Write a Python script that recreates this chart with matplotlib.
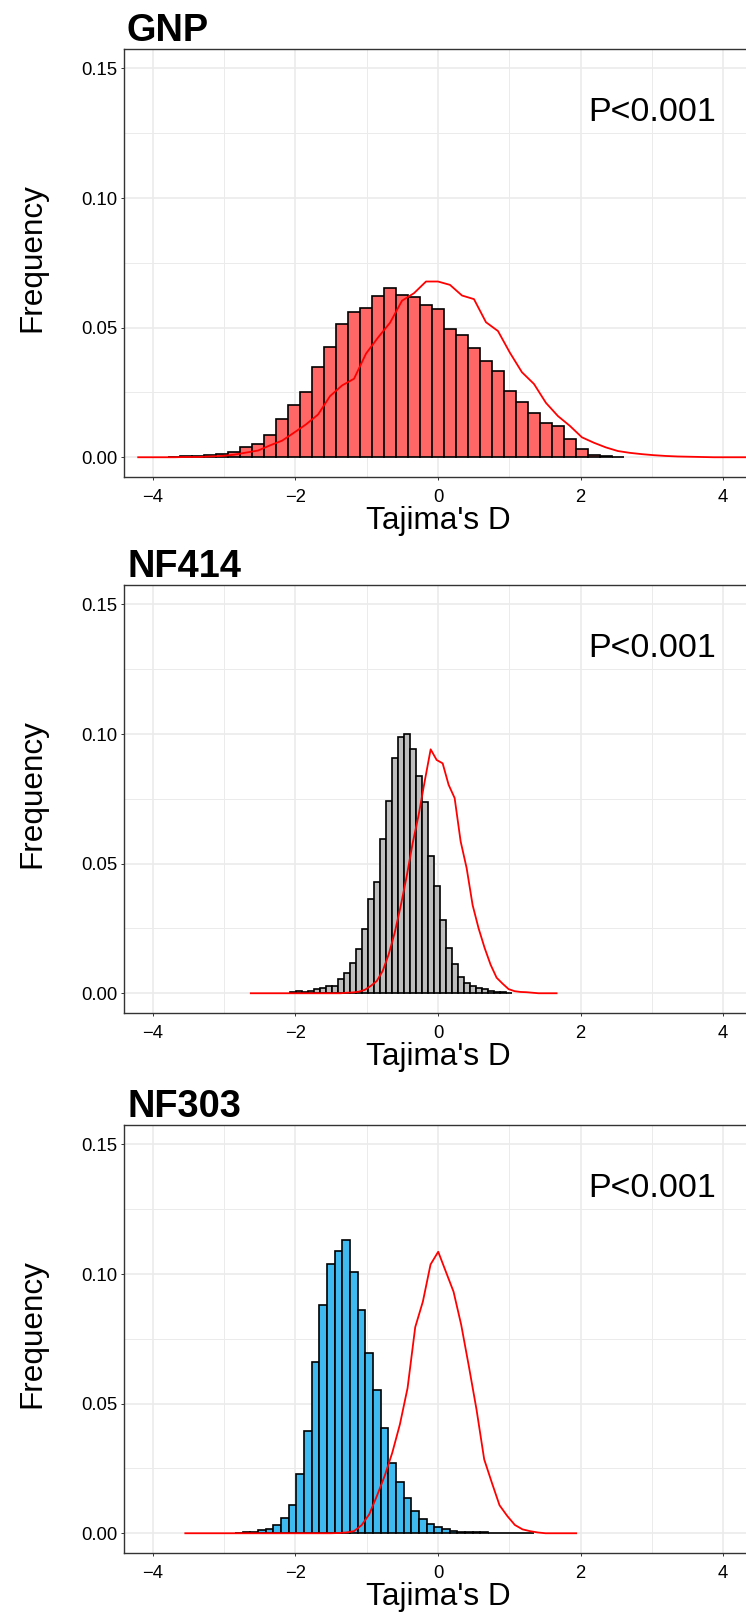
import matplotlib.pyplot as plt
import numpy as np

plt.rcParams['font.family'] = ['Liberation Sans', 'DejaVu Sans']

# populations and their colours
populations = ['GNP', 'NF414', 'NF303']
bar_colors = ['#FF6666', '#BEBEBE', '#3EBAF0']
p_values = ['P<0.001', 'P<0.001', 'P<0.001']

# observed Tajima's D histograms: centre of first bin, bin width, frequencies
gnp_bar_start, gnp_bin = -3.700, 0.1682
gnp_obs = [0.0001, 0.0003, 0.0005, 0.0009, 0.0012, 0.0020, 0.0038, 0.0051, 0.0087,
           0.0147, 0.0201, 0.0250, 0.0349, 0.0427, 0.0513, 0.0559, 0.0574, 0.0622,
           0.0654, 0.0625, 0.0619, 0.0588, 0.0573, 0.0493, 0.0473, 0.0421, 0.0372,
           0.0332, 0.0254, 0.0215, 0.0170, 0.0131, 0.0119, 0.0069, 0.0032, 0.0010,
           0.0004, 0.0001]

nf414_bar_start, nf414_bin = -2.037, 0.0841
nf414_obs = [0.0003, 0.0009, 0.0005, 0.0009, 0.0015, 0.0021, 0.0027, 0.0028, 0.0056,
             0.0077, 0.0115, 0.0169, 0.0249, 0.0365, 0.0431, 0.0595, 0.0740, 0.0906,
             0.0987, 0.1000, 0.0941, 0.0838, 0.0736, 0.0528, 0.0413, 0.0281, 0.0176,
             0.0112, 0.0064, 0.0038, 0.0028, 0.0021, 0.0018, 0.0010, 0.0005, 0.0003,
             0.0002]

nf303_bar_start, nf303_bin = -2.792, 0.1075
nf303_obs = [0.0001, 0.0003, 0.0005, 0.0012, 0.0018, 0.0032, 0.0060, 0.0108, 0.0227,
             0.0394, 0.0659, 0.0881, 0.1038, 0.1090, 0.1133, 0.1008, 0.0862, 0.0697,
             0.0551, 0.0405, 0.0272, 0.0199, 0.0137, 0.0085, 0.0054, 0.0035, 0.0024,
             0.0015, 0.0009, 0.0006, 0.0005, 0.0004, 0.0003, 0.0002, 0.0001, 0.0001,
             0.0001, 0.0001, 0.0001]

# neutral (simulated) frequency polygons: first point, step, frequencies
gnp_line_start = -4.205
gnp_sim = [0, 0, 0, 0, 0.0001, 0.0001, 0.0003, 0.0005, 0.0010, 0.0018, 0.0026, 0.0046,
           0.0064, 0.0095, 0.0127, 0.0165, 0.0236, 0.0277, 0.0303, 0.0400, 0.0462,
           0.0519, 0.0604, 0.0633, 0.0678, 0.0678, 0.0665, 0.0624, 0.0610, 0.0521,
           0.0487, 0.0403, 0.0328, 0.0283, 0.0210, 0.0159, 0.0121, 0.0077, 0.0056,
           0.0038, 0.0024, 0.0017, 0.0012, 0.0008, 0.0005, 0.0003, 0.0002, 0.0001,
           0, 0, 0, 0]

nf414_line_start = -2.626
nf414_sim = [0] * 16 + [0.0002, 0.0003, 0.0006, 0.0013, 0.0028, 0.0047, 0.0086, 0.0150,
                        0.0233, 0.0336, 0.0451, 0.0579, 0.0688, 0.0817, 0.0941, 0.0900,
                        0.0887, 0.0804, 0.0753, 0.0586, 0.0483, 0.0340, 0.0250, 0.0175,
                        0.0110, 0.0060, 0.0037, 0.0016, 0.0008, 0.0005, 0.0004,
                        0.0002] + [0] * 4

nf303_line_start = -3.5445
nf303_sim = [0] * 20 + [0.0001, 0.0003, 0.0008, 0.0031, 0.0073, 0.0144, 0.0220, 0.0310,
                        0.0420, 0.0560, 0.0795, 0.0894, 0.1037, 0.1086, 0.1009, 0.0932,
                        0.0804, 0.0644, 0.0477, 0.0285, 0.0195, 0.0108, 0.0067, 0.0032,
                        0.0015, 0.0008, 0.0003] + [0] * 5

panels = [
    (gnp_bar_start, gnp_bin, gnp_obs, gnp_line_start, gnp_sim),
    (nf414_bar_start, nf414_bin, nf414_obs, nf414_line_start, nf414_sim),
    (nf303_bar_start, nf303_bin, nf303_obs, nf303_line_start, nf303_sim),
]

W, H = 746, 1612
offsets = [0, 536, 1076]  # vertical pixel offset of each panel

fig = plt.figure(figsize=(W / 100, H / 100), dpi=100)

for i, (bar_start, binw, obs, line_start, sim) in enumerate(panels):
    off = offsets[i]
    ax = fig.add_axes([124.3 / W, 1 - (476.7 + off) / H,
                       (751.7 - 124.3) / W, (476.7 - 49) / H])

    obs = np.array(obs)
    sim = np.array(sim)
    x_obs = bar_start + binw * np.arange(len(obs))
    x_sim = line_start + binw * np.arange(len(sim))

    ax.bar(x_obs, obs, width=binw, color=bar_colors[i], edgecolor='black',
           linewidth=1.2, zorder=2)
    ax.plot(x_sim, sim, color='red', linewidth=1.3, zorder=3)

    ax.set_xlim(-4.4, 4.4)
    ax.set_ylim(-0.0075, 0.1575)
    ax.set_xticks([-4, -2, 0, 2, 4])
    ax.set_xticks([-3, -1, 1, 3], minor=True)
    ax.set_yticks([0, 0.05, 0.10, 0.15])
    ax.set_yticklabels(['0.00', '0.05', '0.10', '0.15'])
    ax.set_yticks([0.025, 0.075, 0.125], minor=True)

    ax.grid(which='major', color='#EBEBEB', linewidth=1.2, zorder=0)
    ax.grid(which='minor', color='#EBEBEB', linewidth=0.7, zorder=0)
    ax.set_axisbelow(True)

    for s in ax.spines.values():
        s.set_color('#333333')
        s.set_linewidth(1.0)

    ax.tick_params(which='major', length=2.2, width=0.7, color='#333333',
                   labelsize=13.3, labelcolor='black')
    ax.tick_params(axis='x', which='major', pad=7.0)
    ax.tick_params(axis='y', which='major', pad=2.8)
    ax.tick_params(which='minor', length=0)

    ax.text(3.0, 0.1296, p_values[i], ha='center', va='baseline', fontsize=24.5)

    fig.text(127 / W, 1 - (41 + off) / H, populations[i], fontsize=27.4,
             fontweight='bold', va='baseline', ha='left')
    fig.text(438 / W, 1 - (528.6 + off) / H, "Tajima's D", fontsize=22.7,
             ha='center', va='baseline')
    fig.text(32 / W, 1 - (258 + off) / H, 'Frequency', fontsize=22.7,
             rotation=90, ha='center', va='center')

fig.savefig('out.png', dpi=100)
